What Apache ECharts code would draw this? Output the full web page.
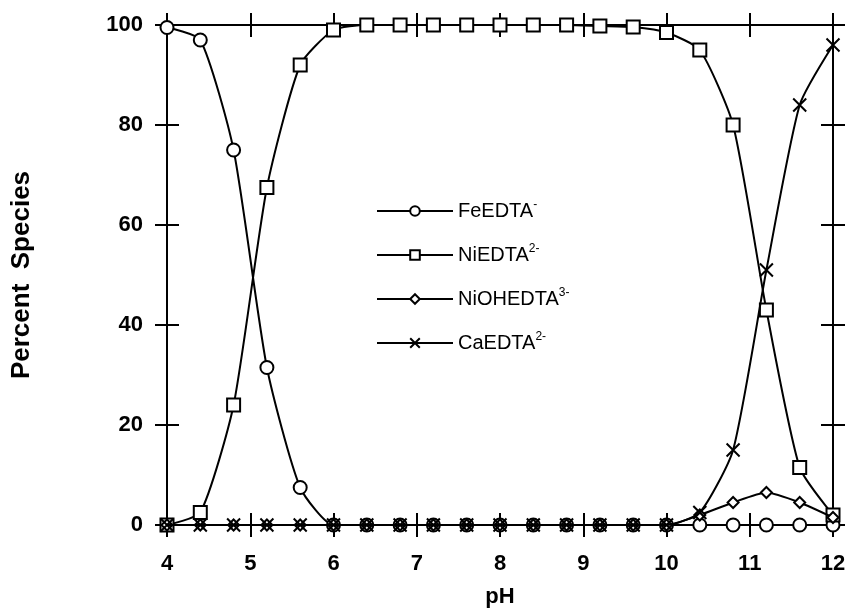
<!DOCTYPE html>
<html><head><meta charset="utf-8">
<script src="https://cdn.jsdelivr.net/npm/echarts@6/dist/echarts.min.js"></script>
<style>html,body{margin:0;padding:0;background:#fff}#c{width:850px;height:613px}</style>
</head><body><div id="c"></div>
<script>
var pH = [4.0,4.4,4.8,5.2,5.6,6.0,6.4,6.8,7.2,7.6,8.0,8.4,8.8,9.2,9.6,10.0,10.4,10.8,11.2,11.6,12.0];
var feEDTA   = [99.5,97,75,31.5,7.5,0,0,0,0,0,0,0,0,0,0,0,0,0,0,0,0];
var niEDTA   = [0,2.5,24,67.5,92,99,100,100,100,100,100,100,100,99.8,99.6,98.5,95,80,43,11.5,2];
var niOHEDTA = [0,0,0,0,0,0,0,0,0,0,0,0,0,0,0,0,2,4.5,6.5,4.5,1.5];
var caEDTA   = [0,0,0,0,0,0,0,0,0,0,0,0,0,0,0,0,2.5,15,51,84,96];
var names = ['FeEDTA','NiEDTA','NiOHEDTA','CaEDTA'];
var charges = ['-','2-','3-','2-'];

function pairs(v){ return pH.map(function(x,i){ return [x, v[i]]; }); }
var font = '"Liberation Sans", Arial, sans-serif';
function mkX(pos, inside, show){
  return {type:'value', min:4, max:12, interval:1, position:pos,
    axisLine:{show:show, onZero:false, lineStyle:{color:'#000', width:2}},
    axisTick:{show:true, inside:inside, length:12, lineStyle:{color:'#000', width:2}},
    axisLabel:{show:false}, splitLine:{show:false}};
}
function mkY(pos, inside, show){
  return {type:'value', min:0, max:100, interval:20, position:pos,
    axisLine:{show:show, onZero:false, lineStyle:{color:'#000', width:2}},
    axisTick:{show:true, inside:inside, length:12, lineStyle:{color:'#000', width:2}},
    axisLabel:{show:false}, splitLine:{show:false}};
}
var x0 = mkX('bottom', false, true);
x0.axisLabel = {show:true, color:'#000', fontFamily:font, fontWeight:'bold', fontSize:22, margin:28};
x0.name = 'pH'; x0.nameLocation = 'middle'; x0.nameGap = 61;
x0.nameTextStyle = {color:'#000', fontFamily:font, fontWeight:'bold', fontSize:22};
var y0 = mkY('left', false, true);
y0.axisLabel = {show:true, color:'#000', fontFamily:font, fontWeight:'bold', fontSize:22, margin:24};
y0.name = 'Percent  Species'; y0.nameLocation = 'middle'; y0.nameGap = 132;
y0.nameTextStyle = {color:'#000', fontFamily:font, fontWeight:'bold', fontSize:26};

var symbols = ['circle','rect','diamond','path://M0,0L10,10M10,0L0,10'];
var sizes = [13,13,11,13];
var dataArr = [feEDTA, niEDTA, niOHEDTA, caEDTA];
var series = names.map(function(n,i){
  return {name:n, type:'line', xAxisIndex:0, yAxisIndex:0, data:pairs(dataArr[i]),
    smooth:0.2, symbol:symbols[i], symbolSize:sizes[i],
    lineStyle:{color:'#000', width:2},
    itemStyle:{color: i===3 ? '#000' : '#fff', borderColor:'#000', borderWidth:2},
    z: 2+i};
});

var chart = echarts.init(document.getElementById('c'), null, {renderer:'canvas'});
chart.setOption({
  animation:false,
  backgroundColor:'#fff',
  grid:{left:167, right:17, top:25, bottom:86, containLabel:false},
  xAxis:[x0, mkX('bottom', true, false), mkX('top', false, true), mkX('top', true, false)],
  yAxis:[y0, mkY('left', true, false), mkY('right', false, true), mkY('right', true, false)],
  legend:{orient:'vertical', left:371, top:194, itemWidth:76, itemHeight:12, itemGap:22,
    data:names,
    formatter:function(n){ var i = names.indexOf(n); return '{n|'+n+'}{s|'+charges[i]+'}'; },
    textStyle:{color:'#000', fontFamily:font, fontSize:20,
      rich:{n:{fontSize:20, fontFamily:font, color:'#000'}, s:{fontSize:12, fontFamily:font, color:'#000', padding:[0,0,12,0]}}}
  },
  series:series
});
</script></body></html>
